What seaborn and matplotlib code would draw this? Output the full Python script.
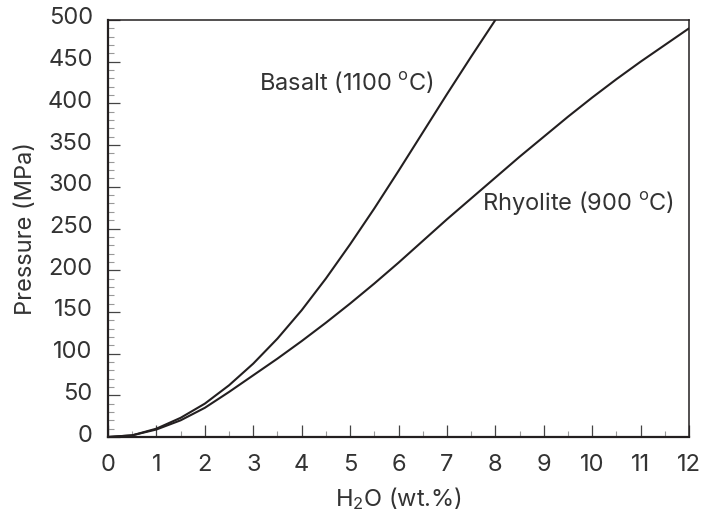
import matplotlib
matplotlib.use("Agg")
import matplotlib.pyplot as plt
import matplotlib.transforms as mtransforms
from matplotlib.ticker import MultipleLocator
import seaborn as sns
import pandas as pd

# Basalt (1100 ºC) solubility curve
basalt_h2o = [0, 0.5, 1, 1.5, 2, 2.5, 3, 3.5, 4, 4.5, 5, 5.5, 6, 6.5, 7, 7.5, 8]
basalt_p = [0, 2, 10, 23, 40, 62, 88, 118, 152, 190, 231, 274, 319, 365, 411, 456, 500]

# Rhyolite (900 ºC) solubility curve
rhyolite_h2o = [0, 0.5, 1, 1.5, 2, 2.5, 3, 3.5, 4, 4.5, 5, 5.5, 6, 6.5, 7, 7.5, 8,
                8.5, 9, 9.5, 10, 10.5, 11, 11.5, 12]
rhyolite_p = [0, 2, 9, 20, 35, 54, 74, 94, 115, 137, 160, 184, 209, 235, 261, 286,
              311, 336, 360, 384, 407, 429, 450, 470, 490]

x_ticks = list(range(0, 13))
y_ticks = list(range(0, 501, 50))

df = pd.concat([
    pd.DataFrame({"h2o": basalt_h2o, "p": basalt_p, "rock": "Basalt"}),
    pd.DataFrame({"h2o": rhyolite_h2o, "p": rhyolite_p, "rock": "Rhyolite"}),
], ignore_index=True)

sns.set_style("white")
FONT = "Inter"
plt.rcParams["font.family"] = [FONT, "DejaVu Sans"]
plt.rcParams["mathtext.fontset"] = "custom"
plt.rcParams["mathtext.rm"] = FONT
plt.rcParams["mathtext.it"] = FONT
plt.rcParams["mathtext.bf"] = FONT
TXT = "#333333"
LINE = "#231f20"
FS = 17

fig = plt.figure(figsize=(7.03, 5.18), dpi=100)
ax = fig.add_axes([108 / 703, 1 - 437 / 518, (689 - 108) / 703, (437 - 20) / 518])

sns.lineplot(data=df, x="h2o", y="p", hue="rock", palette=[LINE, LINE],
             linewidth=1.5, legend=False, ax=ax, sort=False, estimator=None)

ax.set_xlim(0, 12)
ax.set_ylim(0, 500)
ax.set_xticks(x_ticks)
ax.set_yticks(y_ticks)
ax.set_xticklabels([str(v) for v in x_ticks])
ax.set_yticklabels([str(v) for v in y_ticks])
ax.xaxis.set_minor_locator(MultipleLocator(0.5))
ax.yaxis.set_minor_locator(MultipleLocator(10))

ax.tick_params(axis="both", which="major", direction="in", length=8.5, width=0.9,
               color="#444444", labelsize=FS, labelcolor=TXT)
ax.tick_params(axis="x", which="major", pad=12)
ax.tick_params(axis="y", which="major", pad=11)
ax.tick_params(axis="both", which="minor", direction="in", length=4, width=0.8,
               color="#999999")
ax.tick_params(top=False, right=False, which="both")
ax.tick_params(bottom=True, left=True, which="both")

# y tick labels sit slightly above their ticks in the reference
shift = mtransforms.ScaledTranslation(0, 4 / 100, fig.dpi_scale_trans)
for lbl in ax.get_yticklabels():
    lbl.set_transform(lbl.get_transform() + shift)

for side in ["left", "bottom"]:
    ax.spines[side].set_linewidth(1.6)
    ax.spines[side].set_color(LINE)
for side in ["top", "right"]:
    ax.spines[side].set_linewidth(1.1)
    ax.spines[side].set_color(LINE)

ax.set_xlabel(r"H$_2$O (wt.%)", fontsize=FS, color=TXT, labelpad=7)
ax.set_ylabel("Pressure (MPa)", fontsize=FS, color=TXT, labelpad=8)

ax.text(3.12, 426, r"Basalt (1100 $^{\rm o}$C)", fontsize=FS, color=TXT,
        ha="left", va="center")
ax.text(7.73, 281, r"Rhyolite (900 $^{\rm o}$C)", fontsize=FS, color=TXT,
        ha="left", va="center")

fig.savefig("out.png", dpi=100)
